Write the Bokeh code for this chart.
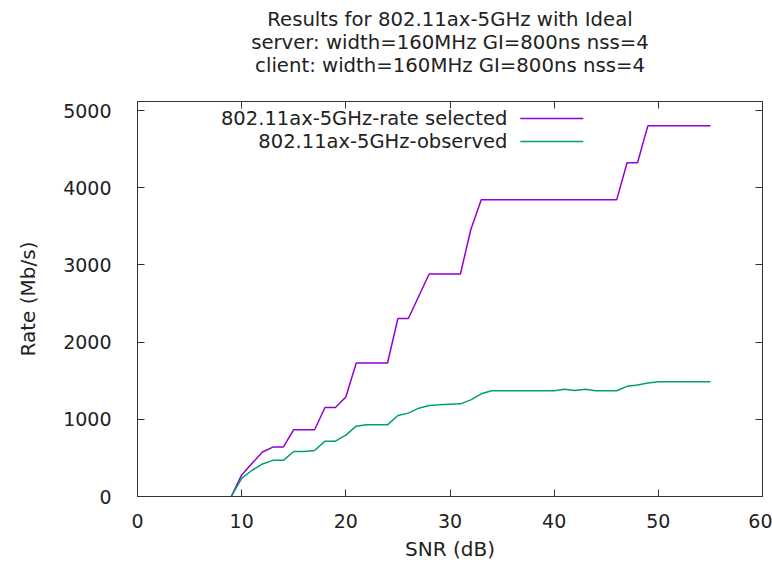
from bokeh.plotting import figure
from bokeh.models import Range1d, LinearAxis, Title, FixedTicker
from bokeh.core.properties import value
from bokeh.embed import file_html
from bokeh.resources import INLINE

# ---- data ----
title_lines = ["Results for 802.11ax-5GHz with Ideal",
               "server: width=160MHz GI=800ns nss=4",
               "client: width=160MHz GI=800ns nss=4"]
series_names = ["802.11ax-5GHz-rate selected", "802.11ax-5GHz-observed"]
snr = list(range(9, 56))
rate_selected = [0, 280, 430, 576, 640, 640, 865, 865, 865, 1153, 1153, 1290,
                 1729, 1729, 1729, 1729, 2306, 2306, 2594, 2882, 2882, 2882, 2882,
                 3459, 3843, 3843, 3843, 3843, 3843, 3843, 3843, 3843, 3843, 3843,
                 3843, 3843, 3843, 3843, 4324, 4324, 4804, 4804, 4804, 4804, 4804,
                 4804, 4804]
observed = [0, 235, 340, 422, 468, 468, 583, 583, 596, 717, 717, 795,
            911, 928, 928, 928, 1049, 1080, 1144, 1179, 1187, 1196, 1200,
            1252, 1330, 1370, 1370, 1370, 1370, 1370, 1370, 1370, 1390, 1372,
            1390, 1370, 1370, 1370, 1427, 1444, 1470, 1487, 1487, 1487, 1487,
            1487, 1487]
x_ticks = [0, 10, 20, 30, 40, 50, 60]
y_ticks = [0, 1000, 2000, 3000, 4000, 5000]
x_label = "SNR (dB)"
y_label = "Rate (Mb/s)"

# ---- style ----
FONT = "DejaVu Sans"
TICK_FS = "19px"
TEXT_FS = "20px"
TITLE_FS = "19.7px"
KEY_FS = "19.5px"
colors = ["#9400d3", "#009e73"]

p = figure(width=772, height=563, output_backend="svg", toolbar_location=None,
           x_range=Range1d(0, 60), y_range=Range1d(0, 5117),
           min_border_left=137, min_border_right=10, min_border_bottom=67,
           min_border_top=101)
p.title.visible = False

p.outline_line_color = "#333333"
p.outline_line_width = 1
p.xgrid.visible = False
p.ygrid.visible = False
p.background_fill_color = "white"
p.border_fill_color = "white"

def style_axis(ax, labels=True):
    ax.axis_line_color = "#333333"
    ax.major_tick_line_color = "#333333"
    ax.major_tick_in = 7
    ax.major_tick_out = 0
    ax.minor_tick_in = 0
    ax.minor_tick_out = 0
    ax.major_label_text_font = FONT
    ax.major_label_text_font_size = TICK_FS if labels else "0px"
    ax.major_label_text_color = "#222222" if labels else None
    ax.axis_label_text_font = FONT
    ax.axis_label_text_font_size = TEXT_FS
    ax.axis_label_text_font_style = "normal"
    ax.axis_label_text_color = "#222222"

p.xaxis.ticker = FixedTicker(ticks=x_ticks)
p.yaxis.ticker = FixedTicker(ticks=y_ticks)
style_axis(p.xaxis[0])
style_axis(p.yaxis[0])
p.xaxis.axis_label = x_label
p.yaxis.axis_label = y_label
p.xaxis.major_label_standoff = 17
p.yaxis.major_label_standoff = 26
p.xaxis.axis_label_standoff = 6
p.yaxis.axis_label_standoff = 20

top = LinearAxis(ticker=FixedTicker(ticks=x_ticks))
right = LinearAxis(ticker=FixedTicker(ticks=y_ticks))
style_axis(top, labels=False)
style_axis(right, labels=False)
top.major_label_standoff = 0
right.major_label_standoff = 0
p.add_layout(top, "above")
p.add_layout(right, "right")

# tiny white spacer between the frame and the title block
p.add_layout(Title(text=".", text_font_size="1px", text_color="white",
                   standoff=22), "above")

# title lines, nearest to the frame first
title_standoffs = [0, -4, 0]
for line, so in zip(reversed(title_lines), title_standoffs):
    t = Title(text=line, align="center", text_font=FONT, text_font_size=TITLE_FS,
              text_font_style="normal", text_color="#222222",
              standoff=so, offset=0)
    p.add_layout(t, "above")

p.line(snr, rate_selected, line_color=colors[0], line_width=1.5)
p.line(snr, observed, line_color=colors[1], line_width=1.5)

# gnuplot-style key: text right-aligned, sample line to its right
key_text_x = 35.5
key_line_x0, key_line_x1 = 36.75, 42.8
key_y = [4896, 4598]
for name, col, ky in zip(series_names, colors, key_y):
    p.text(x=[key_text_x], y=[ky], text=[name], text_align="right",
           text_baseline="middle", text_font=value(FONT), text_font_size=KEY_FS,
           text_color="#222222")
    p.segment(x0=[key_line_x0], y0=[ky], x1=[key_line_x1], y1=[ky],
              line_color=col, line_width=1.5)

open("out.html", "w").write(file_html(p, INLINE))
